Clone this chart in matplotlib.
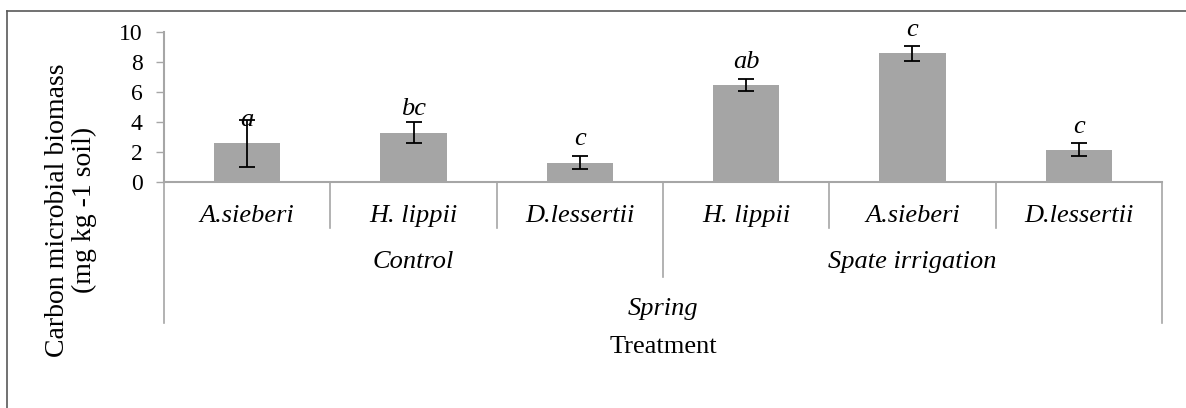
import matplotlib.pyplot as plt
import matplotlib.transforms as mtransforms
from matplotlib.lines import Line2D

# === Data ===
species = ["A.sieberi", "H. lippii", "D.lessertii", "H. lippii", "A.sieberi", "D.lessertii"]
groups = ["Control", "Spate irrigation"]
group_size = [3, 3]
season = "Spring"
biomass = [2.56, 3.27, 1.27, 6.42, 8.57, 2.12]
errors = [1.55, 0.72, 0.42, 0.40, 0.50, 0.43]
letters = ["a", "bc", "c", "ab", "c", "c"]

plt.rcParams['font.family'] = ['Liberation Serif', 'DejaVu Serif']

W, H = 1186, 408
fig = plt.figure(figsize=(W / 100, H / 100), dpi=100)
ax = fig.add_axes([164 / W, 1 - 181.7 / H, 998 / W, 150 / H])

axis_grey = '#A6A6A6'
x = list(range(len(species)))
ax.bar(x, biomass, width=0.4, color='#A5A5A5', zorder=2)
ax.errorbar(x, biomass, yerr=errors, fmt='none', ecolor='black',
            elinewidth=1.3, capsize=6, capthick=1.3, zorder=3)
for xi, v, lab in zip(x, biomass, letters):
    ax.text(xi, v + 1.15, lab, ha='center', va='baseline',
            fontsize=19, style='italic', zorder=4)

ax.set_xlim(-0.5, len(species) - 0.5)
ax.set_ylim(0, 10)
ax.set_yticks(range(0, 11, 2))
ax.tick_params(axis='y', length=5.5, width=1, color=axis_grey, labelsize=17, pad=10)
ax.set_xticks([])
for s in ['top', 'right']:
    ax.spines[s].set_visible(False)
for s in ['left', 'bottom']:
    ax.spines[s].set_color(axis_grey)
    ax.spines[s].set_linewidth(1.5)

# multi-level category axis (y in pixels from top)
trans = mtransforms.blended_transform_factory(ax.transData, fig.transFigure)
def fy(px):
    return 1 - px / H

def vline(xd, y0, y1):
    ax.add_line(Line2D([xd, xd], [fy(y0), fy(y1)], transform=trans,
                       color=axis_grey, lw=1.2, clip_on=False))

n = len(species)
bounds = [0]
for g in group_size:
    bounds.append(bounds[-1] + g)
for i in range(n + 1):
    xd = i - 0.5
    if i == 0 or i == n:
        vline(xd, 181.7, 323)
    elif i in bounds:
        vline(xd, 181.7, 277)
    else:
        vline(xd, 181.7, 228)

for xi, name in zip(x, species):
    ax.text(xi, fy(222), name, transform=trans, ha='center', va='baseline',
            fontsize=19, style='italic')
for gi, name in enumerate(groups):
    center = (bounds[gi] + bounds[gi + 1] - 1) / 2
    ax.text(center, fy(268), name, transform=trans, ha='center', va='baseline',
            fontsize=19, style='italic')
ax.text((n - 1) / 2, fy(315), season, transform=trans, ha='center', va='baseline',
        fontsize=19, style='italic')
ax.text((n - 1) / 2, fy(353), "Treatment", transform=trans, ha='center', va='baseline',
        fontsize=19)

fig.text(71 / W, fy(210), "Carbon microbial biomass\n(mg kg -1 soil)",
         rotation=90, ha='center', va='center', fontsize=20,
         linespacing=1.05, multialignment='center')

# chart frame (Excel style, cropped on the right and bottom)
frame = '#595959'
fig.add_artist(Line2D([7 / W, 1.01], [fy(11), fy(11)], transform=fig.transFigure,
                      color=frame, lw=1.2))
fig.add_artist(Line2D([7 / W, 7 / W], [fy(11), -0.01], transform=fig.transFigure,
                      color=frame, lw=1.2))

fig.savefig('out.png', dpi=100)
